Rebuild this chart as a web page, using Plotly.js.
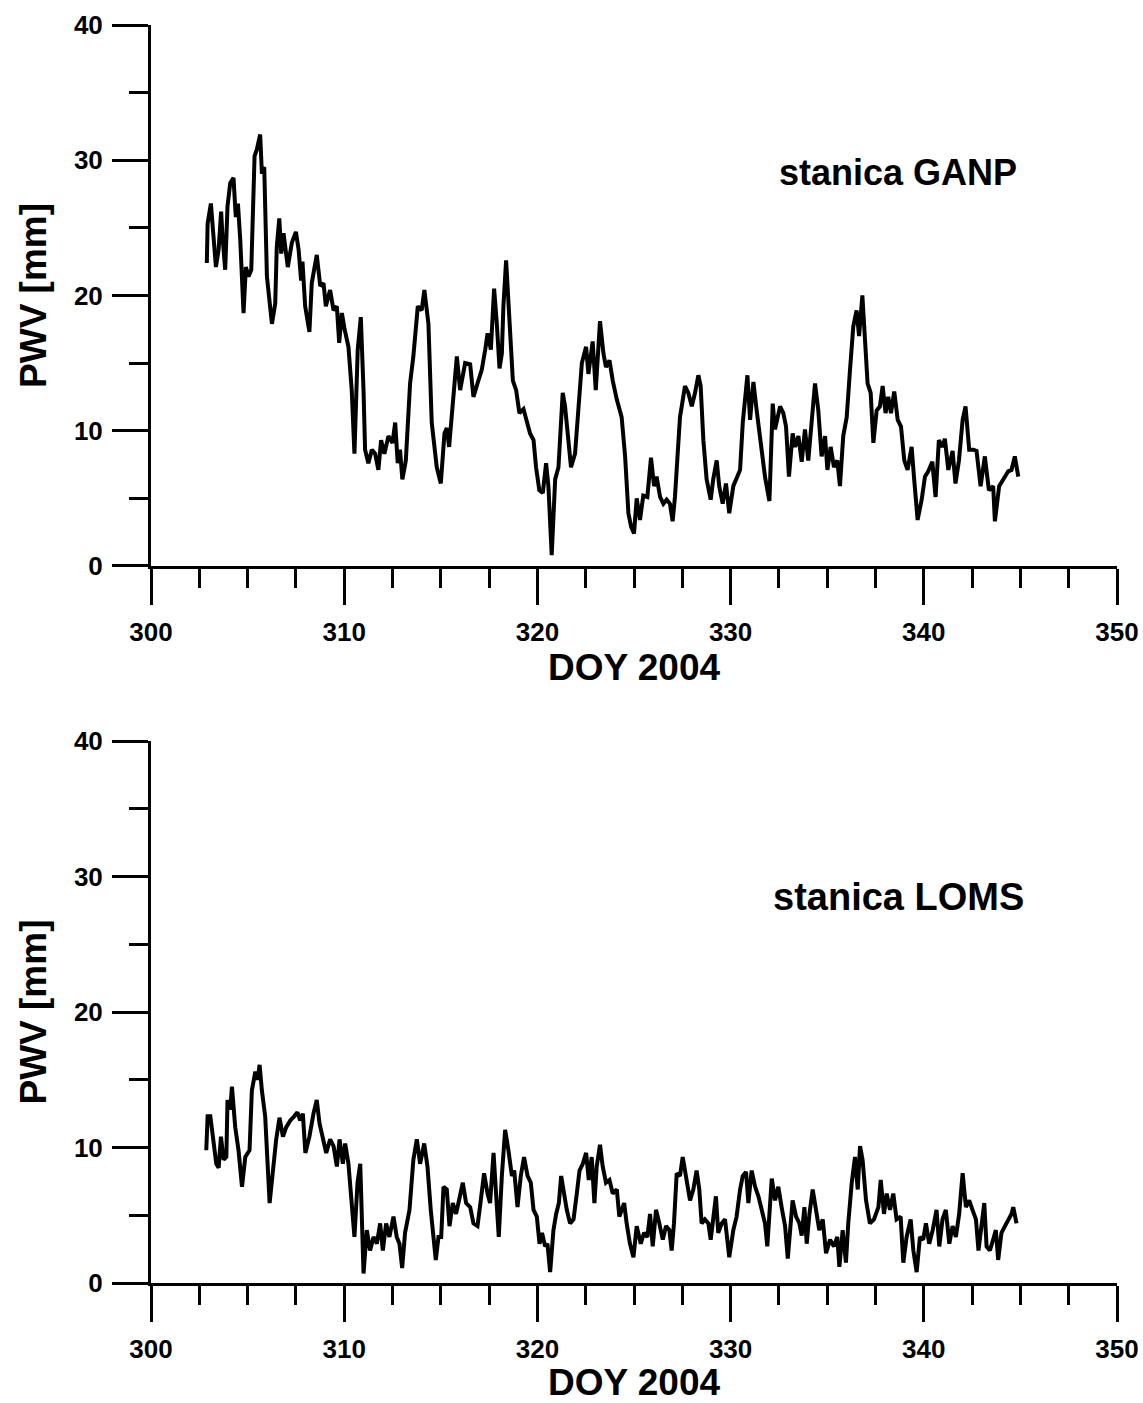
<!DOCTYPE html>
<html>
<head>
<meta charset="utf-8">
<script src="https://cdn.plot.ly/plotly-3.0.1.min.js"></script>
<style>html,body{margin:0;padding:0;background:#fff;}</style>
</head>
<body>
<div id="chart" style="width:1143px;height:1403px;"></div>
<script>
// ---- GANP station (top panel) ----
const ganpDoy = [
302.89,302.93,303.1,303.24,303.36,303.5,303.63,303.7,303.84,303.96,
304.1,304.27,304.39,304.5,304.62,304.79,304.91,305.05,305.19,305.36,
305.48,305.65,305.74,305.86,306.0,306.26,306.43,306.51,306.64,306.74,
306.86,307.08,307.29,307.5,307.64,307.77,307.84,307.98,308.2,308.32,
308.58,308.76,308.93,309.05,309.27,309.45,309.62,309.74,309.88,310.02,
310.22,310.39,310.53,310.7,310.86,311.0,311.08,311.25,311.43,311.6,
311.77,311.91,312.08,312.29,312.5,312.64,312.77,312.89,313.01,313.19,
313.41,313.58,313.81,314.01,314.15,314.36,314.53,314.79,315.0,315.19,
315.31,315.43,315.65,315.83,316.0,316.26,
316.52,316.69,316.9,317.12,317.3,317.42,317.59,317.76,317.9,318.04,
318.16,318.24,318.38,318.55,318.73,318.9,319.07,319.28,319.45,319.62,
319.8,319.93,320.1,320.28,320.45,320.57,320.74,320.92,321.09,321.31,
321.43,321.61,321.74,321.95,322.12,322.3,322.52,322.64,322.86,323.02,
323.24,323.42,323.55,323.73,323.9,324.11,324.36,324.54,324.71,324.85,
325.0,325.14,325.31,325.48,325.69,325.88,326.04,326.17,326.35,326.52,
326.69,326.86,327.0,327.12,327.38,327.64,327.81,327.99,328.16,328.33,
328.45,328.59,328.76,328.97,329.1,329.28,329.41,329.59,329.76,329.93,
330.14,
330.49,330.63,330.75,330.87,331.01,331.18,331.35,331.52,331.66,331.78,
332.01,332.18,332.3,332.56,332.73,332.87,333.02,333.21,333.33,333.51,
333.68,333.85,334.02,334.2,334.37,334.54,334.71,334.89,335.01,335.18,
335.35,335.52,335.66,335.83,336.01,336.18,336.35,336.52,336.65,336.82,
336.96,337.09,337.25,337.39,337.56,337.73,337.87,338.02,338.16,338.3,
338.47,338.65,338.82,338.99,339.16,339.37,339.49,339.68,339.89,340.06,
340.23,340.44,340.61,340.78,340.96,341.09,341.27,341.49,341.64,341.82,
342.01,342.16,342.35,342.56,342.73,342.94,343.16,343.37,343.59,343.68,
343.9,344.11,344.37,344.54,344.71,344.89
];
const ganpPwv = [
22.4,25.3,26.8,24.1,22.1,23.4,26.2,24.4,21.9,26.6,
28.3,28.7,25.8,26.8,24.1,18.7,22.1,21.4,21.9,30.3,
30.8,31.9,29.0,29.5,21.4,17.9,19.4,23.6,25.7,23.1,
24.6,22.1,23.9,24.7,23.4,21.1,22.5,19.2,17.3,20.9,
23.0,20.7,20.9,19.2,20.4,18.9,19.2,16.5,18.7,17.5,
16.2,13.0,8.3,16.0,18.4,13.0,8.6,7.6,8.6,8.3,
7.1,9.3,8.3,9.6,9.1,10.6,7.6,8.6,6.4,7.8,
13.5,15.5,19.2,18.9,20.4,17.9,10.6,7.3,6.1,9.8,
10.2,8.8,12.5,15.5,13.0,15.0,
14.9,12.5,13.5,14.5,16.0,17.2,16.0,20.5,17.9,14.6,
15.7,19.2,22.6,18.4,13.7,13.0,11.3,11.6,10.8,9.8,
9.3,7.3,5.6,5.4,7.6,5.9,0.8,6.4,7.3,12.8,
11.8,8.8,7.3,8.3,12.0,15.0,16.2,14.2,16.6,13.0,
18.1,15.7,14.7,15.2,13.7,12.3,11.0,8.1,3.9,2.9,
2.4,5.0,3.4,5.2,5.1,8.0,5.9,6.6,5.1,4.6,
4.9,4.6,3.3,5.1,11.0,13.3,12.8,11.8,12.8,14.1,
13.3,9.3,6.4,4.9,6.4,7.8,5.9,4.6,6.1,3.9,
5.9,
7.1,10.6,12.5,14.1,10.8,13.6,11.5,9.6,8.1,6.6,
4.8,12.0,10.1,11.8,11.3,10.3,6.6,9.8,8.8,9.6,
7.7,10.1,7.8,11.0,13.5,11.5,8.1,9.6,7.1,8.8,
7.3,7.8,5.9,9.6,11.0,14.5,17.7,18.9,17.0,20.0,
16.5,13.5,12.8,9.1,11.5,11.8,13.3,11.3,12.5,11.3,
12.9,10.8,10.3,7.8,7.1,8.8,6.6,3.4,4.9,6.6,
7.0,7.7,5.1,9.3,8.8,9.4,7.1,8.5,6.1,7.8,
10.8,11.8,8.6,8.6,8.5,5.9,8.1,5.6,5.9,3.3,
5.9,6.4,7.0,7.1,8.1,6.6
];

// ---- LOMS station (bottom panel) ----
const lomsDoy = [
302.86,302.93,303.07,303.24,303.38,303.5,303.62,303.76,303.9,303.96,
304.1,304.19,304.36,304.53,304.71,304.88,305.1,305.22,305.4,305.52,
305.62,305.74,305.91,306.14,306.31,306.48,306.65,306.83,307.0,307.21,
307.41,307.58,307.72,307.86,307.99,308.2,308.41,308.58,308.72,308.9,
309.07,309.27,309.45,309.62,309.76,309.93,310.05,310.22,310.4,310.53,
310.69,310.83,311.0,311.17,311.34,311.52,311.69,311.86,312.0,312.17,
312.34,312.55,312.72,312.86,313.0,313.15,313.38,313.58,313.76,313.93,
314.14,314.31,314.48,314.62,314.74,314.88,315.02,315.14,315.31,315.45,
315.62,315.79,315.96,316.14,316.31,
316.52,316.69,316.9,317.07,317.24,317.42,317.55,317.73,317.86,318.0,
318.16,318.33,318.5,318.68,318.8,318.97,319.14,319.31,319.49,319.66,
319.8,319.97,320.11,320.24,320.4,320.52,320.66,320.83,320.97,321.11,
321.23,321.38,321.52,321.69,321.87,322.04,322.18,322.35,322.52,322.66,
322.81,322.95,323.07,323.24,323.38,323.55,323.73,323.9,324.11,324.24,
324.49,324.62,324.79,324.97,325.14,325.35,325.52,325.69,325.83,325.97,
326.14,326.31,326.49,326.66,326.83,326.95,327.07,327.21,327.38,327.52,
327.69,327.9,328.07,328.24,328.38,328.5,328.67,328.85,328.97,329.11,
329.24,329.36,329.54,329.71,329.93,330.14,330.31,
330.49,330.63,330.8,330.92,331.09,331.27,331.44,331.61,331.78,331.9,
332.13,332.3,332.47,332.64,332.82,332.96,333.08,333.21,333.39,333.56,
333.68,333.82,333.94,334.08,334.25,334.42,334.59,334.77,334.94,335.15,
335.35,335.52,335.63,335.8,335.97,336.09,336.27,336.44,336.58,336.7,
336.83,337.01,337.21,337.42,337.65,337.77,337.94,338.08,338.25,338.42,
338.59,338.8,338.94,339.11,339.32,339.46,339.63,339.8,339.97,340.11,
340.28,340.46,340.66,340.8,340.97,341.14,341.32,341.49,341.66,341.83,
342.01,342.18,342.35,342.52,342.7,342.83,342.99,343.13,343.25,343.42,
343.59,343.73,343.85,344.02,344.2,344.37,344.54,344.63,344.8
];
const lomsPwv = [
9.8,12.3,12.3,10.3,8.8,8.5,10.8,9.1,9.3,13.5,
12.8,14.5,11.5,9.8,7.1,9.3,9.8,14.2,15.6,15.0,
16.1,14.2,12.3,5.9,8.6,10.6,12.2,10.8,11.5,12.0,
12.3,12.6,12.0,12.5,9.6,10.8,12.5,13.5,11.8,10.6,
9.6,10.6,10.1,8.6,10.6,8.8,10.3,8.8,5.1,3.4,
7.4,8.8,0.7,3.9,2.4,3.4,2.9,4.4,2.4,4.4,
3.4,4.9,3.4,2.9,1.1,3.7,5.4,9.1,10.6,8.8,
10.3,8.6,5.4,3.4,1.7,3.4,3.4,7.1,6.9,4.2,
5.9,5.1,6.4,7.4,5.9,
5.6,4.4,4.2,6.1,8.1,6.6,5.9,9.6,6.9,3.4,
7.9,11.3,9.8,7.9,8.3,5.6,7.9,9.3,7.9,7.4,
5.4,4.9,2.9,3.7,2.7,2.9,0.8,3.9,5.1,5.9,
7.9,6.4,5.4,4.4,4.7,6.6,8.3,8.8,9.6,7.6,
9.3,5.9,8.6,10.2,8.6,7.4,7.6,6.6,6.9,4.9,
5.9,4.4,2.9,1.9,4.2,2.9,3.7,3.4,5.1,2.7,
5.4,4.4,3.2,4.2,3.9,2.4,4.4,8.1,7.9,9.3,
7.9,6.1,6.9,8.3,6.9,4.4,4.7,4.4,3.2,4.7,
6.4,3.7,4.4,4.7,1.9,3.9,4.9,
6.9,7.9,8.2,5.9,8.3,7.1,6.4,5.4,4.4,2.7,
7.7,6.1,7.1,5.6,4.2,1.8,4.4,6.1,4.9,4.4,
3.5,5.6,2.9,5.1,6.9,5.4,3.9,4.7,2.2,3.2,
2.7,3.4,1.2,3.9,1.5,4.4,7.4,9.3,6.9,10.1,
9.1,6.1,4.4,4.7,5.6,7.6,5.1,6.6,5.4,6.6,
4.7,4.9,1.5,3.4,4.7,2.4,0.8,3.4,3.2,4.4,
2.9,3.9,5.4,2.7,4.7,5.4,2.9,4.2,3.4,5.1,
8.1,5.6,6.1,5.4,4.7,2.4,4.4,5.9,2.7,2.4,
3.2,3.9,1.7,3.7,4.2,4.7,5.1,5.6,4.4
];

const stationLabels = ['stanica GANP', 'stanica LOMS'];
const xTitle = 'DOY 2004';
const yTitle = 'PWV [mm]';

const FONT = 'Liberation Sans, Arial, Helvetica, sans-serif';
const tickFont = {family: FONT, size: 26, color: 'black', weight: 700};
const titleFont = {family: FONT, size: 37, color: 'black', weight: 700};
const labelFont = {family: FONT, size: 36, color: 'black', weight: 700};

function xAxis(anchor) {
  return {
    anchor: anchor, domain: [0, 1], range: [300, 350], tick0: 300, dtick: 10,
    ticks: 'outside', ticklen: 36, tickwidth: 3, tickcolor: 'black',
    showline: true, linewidth: 3, linecolor: 'black', mirror: false,
    showgrid: false, zeroline: false, tickfont: tickFont, ticklabelstandoff: 5,
    minor: {dtick: 2.5, tick0: 300, ticks: 'outside', ticklen: 19, tickwidth: 3, tickcolor: 'black', showgrid: false},
    title: {text: xTitle, font: titleFont, standoff: 8}
  };
}
function yAxis(anchor, domain) {
  return {
    anchor: anchor, domain: domain, range: [0, 40], tick0: 0, dtick: 10,
    ticks: 'outside', ticklen: 36, tickwidth: 3, tickcolor: 'black',
    showline: true, linewidth: 3, linecolor: 'black', mirror: false,
    showgrid: false, zeroline: false, tickfont: tickFont, ticklabelstandoff: 4,
    minor: {dtick: 5, tick0: 0, ticks: 'outside', ticklen: 19, tickwidth: 3, tickcolor: 'black', showgrid: false},
    title: {text: yTitle, font: titleFont, standoff: 16}
  };
}

const lineStyle = {color: 'black', width: 4};
const traces = [
  {x: ganpDoy, y: ganpPwv, type: 'scatter', mode: 'lines', line: lineStyle, xaxis: 'x', yaxis: 'y', name: 'GANP'},
  {x: lomsDoy, y: lomsPwv, type: 'scatter', mode: 'lines', line: lineStyle, xaxis: 'x2', yaxis: 'y2', name: 'LOMS'}
];

const layout = {
  width: 1143, height: 1403, showlegend: false,
  paper_bgcolor: 'white', plot_bgcolor: 'white',
  margin: {l: 151, r: 26, t: 25, b: 120, autoexpand: false},
  font: {family: FONT, color: 'black'},
  xaxis: xAxis('y'),
  yaxis: yAxis('x', [0.570, 1]),
  xaxis2: xAxis('y2'),
  yaxis2: yAxis('x2', [0, 0.4308]),
  annotations: [
    {text: stationLabels[0], xref: 'x', yref: 'y', x: 332.4, y: 29.1, xanchor: 'left', yanchor: 'middle', showarrow: false, font: labelFont},
    {text: stationLabels[1], xref: 'x2', yref: 'y2', x: 332.1, y: 28.5, xanchor: 'left', yanchor: 'middle', showarrow: false, font: {family: FONT, size: 38, color: 'black', weight: 700}}
  ]
};

Plotly.newPlot('chart', traces, layout, {staticPlot: true, displayModeBar: false});
</script>
</body>
</html>
